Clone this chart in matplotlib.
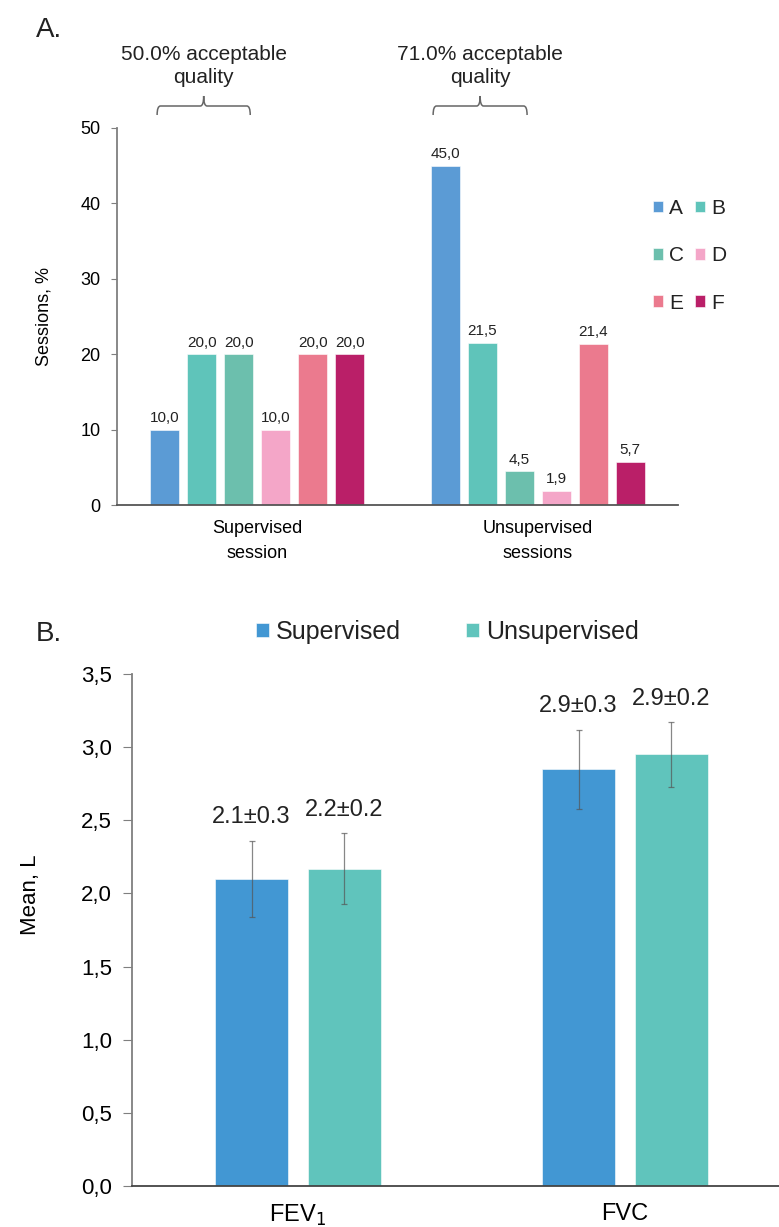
import numpy as np
import matplotlib
matplotlib.use("Agg")
import matplotlib.pyplot as plt
from matplotlib import transforms
from matplotlib.path import Path
from matplotlib.patches import PathPatch
from matplotlib.ticker import FuncFormatter

plt.rcParams['font.family'] = ['Liberation Sans', 'DejaVu Sans']
plt.rcParams['text.color'] = '#222222'

# panel A data
session_groups = ["Supervised\nsession", "Unsupervised\nsessions"]
grades = ["A", "B", "C", "D", "E", "F"]
grade_colors = ["#5B9BD5", "#5FC4BA", "#6CBFAD", "#F4A6C8", "#EB7A8E", "#BA1F68"]
supervised_pct = [10.0, 20.0, 20.0, 10.0, 20.0, 20.0]
unsupervised_pct = [45.0, 21.5, 4.5, 1.9, 21.4, 5.7]
quality_notes = ["50.0% acceptable\nquality", "71.0% acceptable\nquality"]

# panel B data
measures = ["FEV$_1$", "FVC"]
series = ["Supervised", "Unsupervised"]
series_colors = ["#4297D3", "#60C4BC"]
mean_sup = [2.10, 2.85]
mean_unsup = [2.17, 2.95]
sd_sup = [0.26, 0.27]
sd_unsup = [0.24, 0.22]
labels_sup = ["2.1±0.3", "2.9±0.3"]
labels_unsup = ["2.2±0.2", "2.9±0.2"]

W, H = 779, 1227
fig = plt.figure(figsize=(W / 100, H / 100), dpi=100)


def fx(px):
    return px / W


def fy(py):
    return 1 - py / H


def comma(v, pos=None):
    return f"{v:.1f}".replace(".", ",")


spine_col = "#7f7f7f"

# ---------- panel A ----------
ax1 = fig.add_axes([fx(117), fy(505), fx(678) - fx(117), fy(128) - fy(505)])
step, width = 0.132, 0.1034
xg = np.arange(len(session_groups))
data_a = np.array([supervised_pct, unsupervised_pct])
for i, g in enumerate(grades):
    xs = xg + (i - 2.5) * step
    ax1.bar(xs, data_a[:, i], width, color=grade_colors[i],
            edgecolor="white", linewidth=0.4, label=g)
    for x, v in zip(xs, data_a[:, i]):
        ax1.text(x, v + 0.6, comma(v), ha="center", va="bottom", fontsize=11)

ax1.set_xlim(-0.5, 1.5)
ax1.set_ylim(0, 50)
ax1.set_yticks(range(0, 51, 10))
ax1.set_xticks(xg)
ax1.set_xticklabels(session_groups, fontsize=13, linespacing=1.6)
ax1.tick_params(axis="x", length=0, pad=11)
ax1.tick_params(axis="y", labelsize=13, length=4, color=spine_col, pad=8)
ax1.set_ylabel("Sessions, %", fontsize=13, labelpad=20)
for s in ["top", "right"]:
    ax1.spines[s].set_visible(False)
ax1.spines["left"].set_color(spine_col)
ax1.spines["left"].set_linewidth(1.3)
ax1.spines["bottom"].set_color("#555555")
ax1.spines["bottom"].set_linewidth(1.3)

# legend, row major
h, l = ax1.get_legend_handles_labels()
order = [0, 2, 4, 1, 3, 5]
ax1.legend([h[k] for k in order], [l[k] for k in order], ncol=2,
           loc="upper left", bbox_to_anchor=(fx(653), fy(199)),
           bbox_transform=fig.transFigure, frameon=False, fontsize=15,
           handlelength=0.48, handleheight=0.48, handletextpad=0.3,
           columnspacing=0.5, labelspacing=1.36, borderpad=0, borderaxespad=0)

# braces above the groups
btr = transforms.blended_transform_factory(ax1.transData, fig.transFigure)
brace_spans = [(-0.357, -0.025), (-0.373, -0.038)]
for k, (a, b) in enumerate(brace_spans):
    x0, x1 = xg[k] + a, xg[k] + b
    xc = (x0 + x1) / 2
    yb, ym, yt = fy(115), fy(106), fy(96)
    d = 0.012
    verts = [(x0, yb), (x0, ym), (x0 + d, ym), (xc - d, ym), (xc, ym), (xc, yt),
             (xc, ym), (xc + d, ym), (x1 - d, ym), (x1, ym), (x1, yb)]
    codes = [Path.MOVETO, Path.CURVE3, Path.CURVE3, Path.LINETO, Path.CURVE3, Path.CURVE3,
             Path.CURVE3, Path.CURVE3, Path.LINETO, Path.CURVE3, Path.CURVE3]
    fig.add_artist(PathPatch(Path(verts, codes), transform=btr, fill=False,
                             edgecolor="#666666", linewidth=1.1))
    fig.text(xc, fy(83), quality_notes[k], transform=btr, ha="center", va="baseline",
             fontsize=15, linespacing=1.3)

fig.text(fx(36), fy(37), "A.", fontsize=20, va="baseline")
fig.text(fx(36), fy(641), "B.", fontsize=20, va="baseline")

# ---------- panel B ----------
ax2 = fig.add_axes([fx(132), fy(1186), 1 - fx(132), fy(674) - fy(1186)])
xm = np.arange(len(measures))
off, bw = 0.142, 0.223
ek = dict(ecolor="#555555", elinewidth=0.9, capsize=2, capthick=0.9, alpha=0.7)
ax2.bar(xm - off, mean_sup, bw, yerr=sd_sup, color=series_colors[0],
        edgecolor="white", linewidth=0.4, error_kw=ek, label=series[0])
ax2.bar(xm + off, mean_unsup, bw, yerr=sd_unsup, color=series_colors[1],
        edgecolor="white", linewidth=0.4, error_kw=ek, label=series[1])
for xs, m, s, labs in [(xm - off, mean_sup, sd_sup, labels_sup),
                       (xm + off, mean_unsup, sd_unsup, labels_unsup)]:
    for x, mv, sv, t in zip(xs, m, s, labs):
        ax2.annotate(t, (x, mv + sv), xytext=(0, 9), textcoords="offset points",
                     ha="center", va="bottom", fontsize=17)

ax2.set_xlim(-0.5076, 1.471)
ax2.set_ylim(0, 3.5)
ax2.set_yticks(np.arange(0, 3.51, 0.5))
ax2.yaxis.set_major_formatter(FuncFormatter(comma))
ax2.set_xticks(xm)
ax2.set_xticklabels(measures, fontsize=17)
ax2.tick_params(axis="x", length=0, pad=12)
ax2.tick_params(axis="y", labelsize=16, length=6.5, color=spine_col, pad=8)
ax2.set_ylabel("Mean, L", fontsize=16)
ax2.yaxis.set_label_coords(-0.14, 0.568)
for s in ["top", "right"]:
    ax2.spines[s].set_visible(False)
ax2.spines["left"].set_color(spine_col)
ax2.spines["left"].set_linewidth(1.3)
ax2.spines["bottom"].set_color("#444444")
ax2.spines["bottom"].set_linewidth(1.3)

ax2.legend(ncol=2, loc="upper left", bbox_to_anchor=(fx(256), fy(620)),
           bbox_transform=fig.transFigure, frameon=False, fontsize=18,
           handlelength=0.5, handleheight=0.5, handletextpad=0.3,
           columnspacing=2.6, borderpad=0, borderaxespad=0)

fig.savefig("out.png", dpi=100)
